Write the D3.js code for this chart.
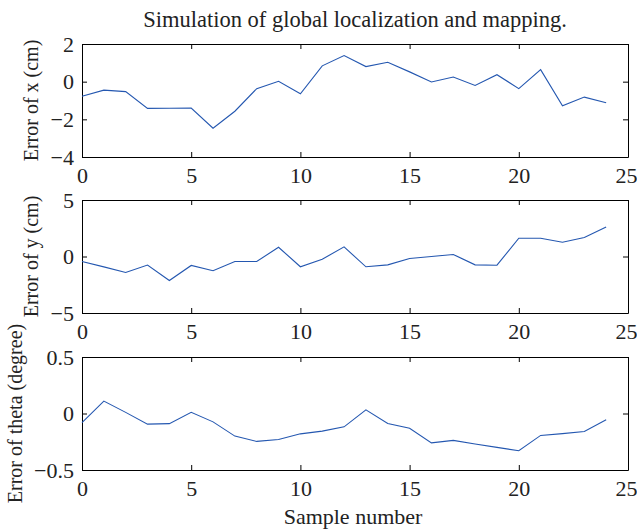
<!DOCTYPE html>
<html>
<head>
<meta charset="utf-8">
<script src="https://cdn.jsdelivr.net/npm/d3@7"></script>
<style>
  html, body { margin: 0; padding: 0; background: #fff; }
  svg { display: block; }
  .axis path, .axis line { stroke: #000; }
  .trace { fill: none; stroke: #2457b0; stroke-width: 1.1; }
</style>
</head>
<body>
<div id="chart"></div>
<script>
const d3 = window.d3;

const W = 637, H = 529;
const L = 82, R = 628;
const SERIF = '"Liberation Serif", "Times New Roman", serif';

const samples = d3.range(0, 25);
const xTicks = [0, 5, 10, 15, 20, 25];

const errX = [-0.77, -0.45, -0.53, -1.42, -1.41, -1.40, -2.47, -1.57, -0.37, 0.02,
  -0.64, 0.84, 1.39, 0.80, 1.03, 0.52, -0.02, 0.25, -0.20, 0.37,
  -0.37, 0.64, -1.28, -0.82, -1.12];
const errY = [-0.44, -0.92, -1.41, -0.76, -2.12, -0.79, -1.26, -0.44, -0.44, 0.82,
  -0.91, -0.24, 0.85, -0.91, -0.74, -0.18, 0.0, 0.18, -0.74, -0.77,
  1.62, 1.62, 1.26, 1.68, 2.62];
const errTheta = [-0.08, 0.11, 0.01, -0.094, -0.09, 0.01, -0.074, -0.20, -0.247, -0.23,
  -0.18, -0.156, -0.118, 0.032, -0.088, -0.13, -0.26, -0.238, -0.27, -0.30,
  -0.33, -0.194, -0.178, -0.16, -0.056];

// labelX: baseline position of the rotated y label (MATLAB shifts it by tick label width)
const panels = [
  { top: 44, values: errX, domain: [-4, 2], ticks: [-4, -2, 0, 2], fmt: d3.format('d'), label: 'Error of x (cm)', labelX: 38 },
  { top: 200, values: errY, domain: [-5, 5], ticks: [-5, 0, 5], fmt: d3.format('d'), label: 'Error of y (cm)', labelX: 38 },
  { top: 357, values: errTheta, domain: [-0.5, 0.5], ticks: [-0.5, 0, 0.5], fmt: (v) => v === 0 ? '0' : d3.format('.1f')(v), label: 'Error of theta (degree)', labelX: 22 },
];
const PH = 113;

const svg = d3.select('#chart').append('svg')
  .attr('width', W).attr('height', H).attr('viewBox', `0 0 ${W} ${H}`)
  .style('font-family', SERIF);

svg.append('text')
  .attr('x', 355).attr('y', 27)
  .attr('text-anchor', 'middle')
  .style('font-family', SERIF).style('font-size', '22.5px').attr('fill', '#222')
  .text('Simulation of global localization and mapping.');

const x = d3.scaleLinear().domain([0, 25]).range([L, R]);

const styleTicks = (g) => g.selectAll('text')
  .style('font-family', SERIF).style('font-size', '22px').attr('fill', '#222');

for (const p of panels) {
  const y = d3.scaleLinear().domain(p.domain).range([p.top + PH, p.top]);

  // Inward ticks on all four sides, labels only bottom/left.
  svg.append('g').attr('class', 'axis')
    .attr('transform', `translate(0,${p.top + PH})`)
    .call(d3.axisBottom(x).tickValues(xTicks).tickSize(-5).tickPadding(10).tickSizeOuter(0))
    .call(styleTicks)
    .call((g) => g.selectAll('text').filter((d) => d === 25).attr('dx', -2));
  svg.append('g').attr('class', 'axis')
    .attr('transform', `translate(0,${p.top})`)
    .call(d3.axisTop(x).tickValues(xTicks).tickSize(-5).tickFormat('').tickSizeOuter(0));
  svg.append('g').attr('class', 'axis')
    .attr('transform', `translate(${L},0)`)
    .call(d3.axisLeft(y).tickValues(p.ticks).tickFormat(p.fmt).tickSize(-5).tickPadding(8).tickSizeOuter(0))
    .call(styleTicks);
  svg.append('g').attr('class', 'axis')
    .attr('transform', `translate(${R},0)`)
    .call(d3.axisRight(y).tickValues(p.ticks).tickFormat('').tickSize(-5).tickSizeOuter(0));

  svg.append('text')
    .attr('transform', `translate(${p.labelX},${p.top + PH / 2}) rotate(-90)`)
    .attr('text-anchor', 'middle')
    .style('font-family', SERIF).style('font-size', '20px').attr('fill', '#222')
    .text(p.label);

  const line = d3.line().x((d, i) => x(samples[i])).y((d) => y(d));
  svg.append('path').datum(p.values).attr('class', 'trace').attr('d', line);
}

svg.append('text')
  .attr('x', 353).attr('y', 524)
  .attr('text-anchor', 'middle')
  .style('font-family', SERIF).style('font-size', '22px').attr('fill', '#222')
  .text('Sample number');
</script>
</body>
</html>
